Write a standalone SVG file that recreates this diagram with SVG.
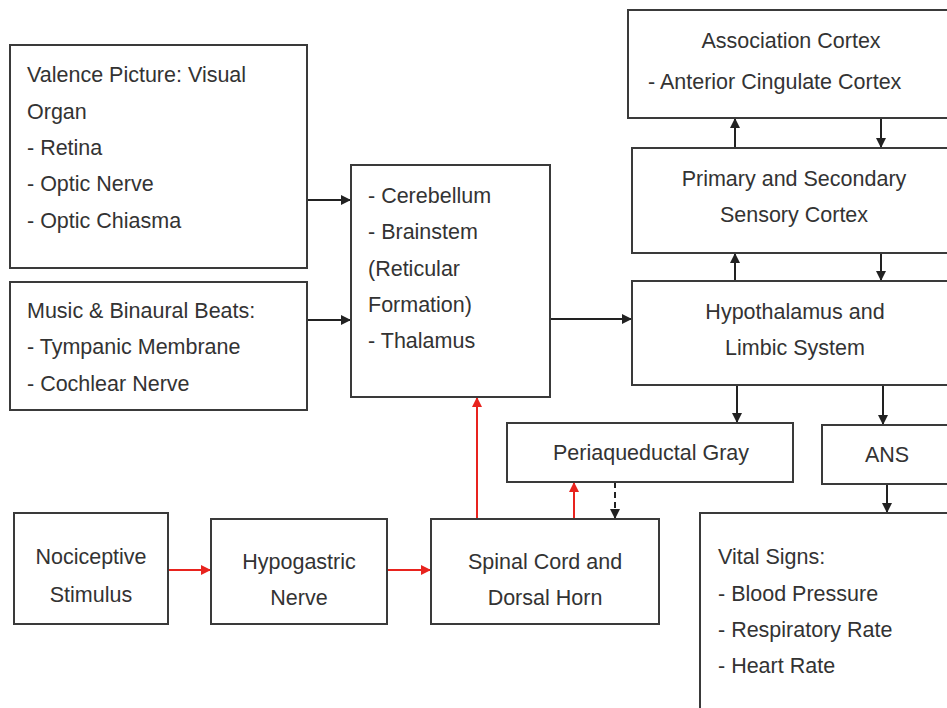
<svg xmlns="http://www.w3.org/2000/svg" width="947" height="708" viewBox="0 0 947 708">
<style>
.box{fill:#fff;stroke:#3a3a3a;stroke-width:2}
text{font-family:"Liberation Sans",Arial,sans-serif;font-size:21.5px;fill:#333}
.c{text-anchor:middle}
.k{stroke:#222;stroke-width:2;fill:none}
.r{stroke:#e8231e;stroke-width:2;fill:none}
</style>
<defs>
<marker id="ak" markerWidth="10" markerHeight="10" refX="9" refY="5" orient="auto" markerUnits="userSpaceOnUse"><path d="M0,0 L10,5 L0,10 z" fill="#222"/></marker>
<marker id="ar" markerWidth="10" markerHeight="10" refX="9" refY="5" orient="auto" markerUnits="userSpaceOnUse"><path d="M0,0 L10,5 L0,10 z" fill="#e8231e"/></marker>
</defs>
<rect width="947" height="708" fill="#fff"/>
<g id="connectors">
<line class="k" x1="307" y1="200" x2="350" y2="200" marker-end="url(#ak)"/>
<line class="k" x1="307" y1="320" x2="350" y2="320" marker-end="url(#ak)"/>
<line class="k" x1="550" y1="319" x2="631" y2="319" marker-end="url(#ak)"/>
<line class="k" x1="735" y1="281" x2="735" y2="254" marker-end="url(#ak)"/>
<line class="k" x1="881" y1="253" x2="881" y2="280" marker-end="url(#ak)"/>
<line class="k" x1="735" y1="148" x2="735" y2="119" marker-end="url(#ak)"/>
<line class="k" x1="881" y1="118" x2="881" y2="147" marker-end="url(#ak)"/>
<line class="k" x1="737" y1="385" x2="737" y2="422" marker-end="url(#ak)"/>
<line class="k" x1="883" y1="385" x2="883" y2="424" marker-end="url(#ak)"/>
<line class="k" x1="887" y1="484" x2="887" y2="512" marker-end="url(#ak)"/>
<line class="k" x1="615" y1="482" x2="615" y2="518" stroke-dasharray="6,4" marker-end="url(#ak)"/>
<line class="r" x1="168" y1="570" x2="210" y2="570" marker-end="url(#ar)"/>
<line class="r" x1="387" y1="570" x2="430" y2="570" marker-end="url(#ar)"/>
<line class="r" x1="477" y1="519" x2="477" y2="398" marker-end="url(#ar)"/>
<line class="r" x1="574" y1="519" x2="574" y2="483" marker-end="url(#ar)"/>
</g>
<g id="valence">
<rect class="box" x="10" y="45" width="297" height="223"/>
<text x="27" y="82">Valence Picture: Visual</text>
<text x="27" y="119">Organ</text>
<text x="27" y="155">- Retina</text>
<text x="27" y="191">- Optic Nerve</text>
<text x="27" y="228">- Optic Chiasma</text>
</g>
<g id="music">
<rect class="box" x="10" y="282" width="297" height="128"/>
<text x="27" y="318">Music &amp; Binaural Beats:</text>
<text x="27" y="354">- Tympanic Membrane</text>
<text x="27" y="391">- Cochlear Nerve</text>
</g>
<g id="cerebellum">
<rect class="box" x="351" y="165" width="199" height="232"/>
<text x="368" y="203">- Cerebellum</text>
<text x="368" y="239">- Brainstem</text>
<text x="368" y="276">(Reticular</text>
<text x="368" y="312">Formation)</text>
<text x="368" y="348">- Thalamus</text>
</g>
<g id="association">
<rect class="box" x="628" y="10" width="330" height="108"/>
<text class="c" x="791" y="48">Association Cortex</text>
<text x="648" y="89">- Anterior Cingulate Cortex</text>
</g>
<g id="sensory">
<rect class="box" x="632" y="148" width="326" height="105"/>
<text class="c" x="794" y="186">Primary and Secondary</text>
<text class="c" x="794" y="222">Sensory Cortex</text>
</g>
<g id="hypothalamus">
<rect class="box" x="632" y="281" width="326" height="104"/>
<text class="c" x="795" y="319">Hypothalamus and</text>
<text class="c" x="795" y="355">Limbic System</text>
</g>
<g id="pag">
<rect class="box" x="507" y="423" width="286" height="59"/>
<text class="c" x="651" y="460">Periaqueductal Gray</text>
</g>
<g id="ans">
<rect class="box" x="822" y="425" width="136" height="59"/>
<text class="c" x="887" y="462">ANS</text>
</g>
<g id="nociceptive">
<rect class="box" x="14" y="513" width="154" height="111"/>
<text class="c" x="91" y="564">Nociceptive</text>
<text class="c" x="91" y="602">Stimulus</text>
</g>
<g id="hypogastric">
<rect class="box" x="211" y="519" width="176" height="105"/>
<text class="c" x="299" y="569">Hypogastric</text>
<text class="c" x="299" y="605">Nerve</text>
</g>
<g id="spinal">
<rect class="box" x="431" y="519" width="228" height="105"/>
<text class="c" x="545" y="569">Spinal Cord and</text>
<text class="c" x="545" y="605">Dorsal Horn</text>
</g>
<g id="vital">
<rect class="box" x="700" y="513" width="258" height="210"/>
<text x="718" y="564">Vital Signs:</text>
<text x="718" y="601">- Blood Pressure</text>
<text x="718" y="637">- Respiratory Rate</text>
<text x="718" y="673">- Heart Rate</text>
</g>
</svg>
